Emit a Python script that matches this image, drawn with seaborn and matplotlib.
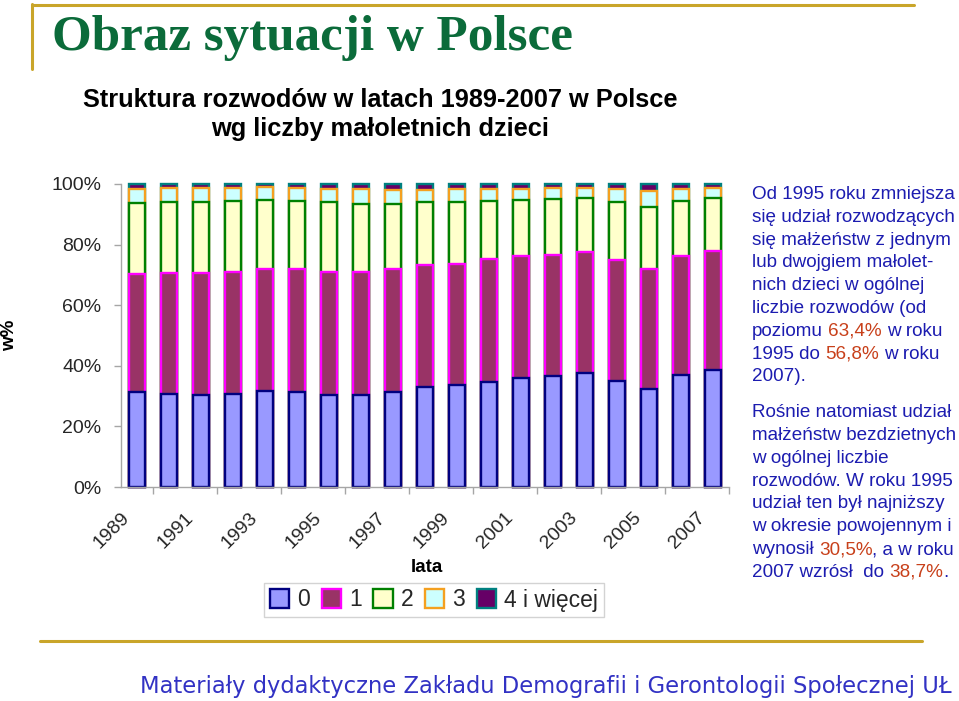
import re
import numpy as np
import pandas as pd
import seaborn as sns
import matplotlib
matplotlib.use("Agg")
import matplotlib.pyplot as plt
from matplotlib.patches import Patch
from matplotlib.lines import Line2D

# ---------------- data ----------------
years = list(range(1989, 2008))
share_0 = [31.2, 30.8, 30.5, 30.8, 31.7, 31.4, 30.5, 30.3, 31.4, 33.0,
           33.6, 34.6, 36.1, 36.7, 37.7, 34.9, 32.2, 36.9, 38.7]
share_1 = [39.0, 39.9, 40.0, 40.2, 40.4, 40.4, 40.5, 40.7, 40.5, 40.2,
           40.0, 40.5, 40.1, 39.8, 39.7, 40.0, 39.7, 39.4, 39.2]
share_2 = [23.5, 23.5, 23.7, 23.5, 22.6, 22.5, 22.9, 22.4, 21.5, 20.7,
           20.6, 19.4, 18.5, 18.5, 17.9, 19.0, 20.6, 18.1, 17.6]
share_3 = [4.6, 4.4, 4.4, 4.1, 4.2, 4.3, 4.3, 4.8, 4.6, 4.1,
           4.0, 3.8, 3.6, 3.6, 3.3, 4.3, 5.3, 3.9, 3.1]
share_4 = [1.7, 1.4, 1.4, 1.4, 1.1, 1.4, 1.8, 1.8, 2.0, 2.0,
           1.8, 1.7, 1.7, 1.4, 1.4, 1.8, 2.2, 1.7, 1.4]
categories = ["0", "1", "2", "3", "4 i więcej"]
year_labels = [str(y) for y in years]
shown_year_labels = year_labels[::2]
y_ticks = [0, 20, 40, 60, 80, 100]
y_tick_labels = [f"{v}%" for v in y_ticks]

title = "Obraz sytuacji w Polsce"
subtitle = ["Struktura rozwodów w latach 1989-2007 w Polsce",
            "wg liczby małoletnich dzieci"]
footer = "Materiały dydaktyczne Zakładu Demografii i Gerontologii Społecznej UŁ"
note_lines = [
    "Od 1995 roku zmniejsza",
    "się udział rozwodzących",
    "się małżeństw z jednym",
    "lub dwojgiem małolet-",
    "nich dzieci w ogólnej",
    "liczbie rozwodów (od",
    "poziomu {63,4%} w roku",
    "1995 do {56,8%} w roku",
    "2007).",
    None,
    "Rośnie natomiast udział",
    "małżeństw bezdzietnych",
    "w ogólnej liczbie",
    "rozwodów. W roku 1995",
    "udział ten był najniższy",
    "w okresie powojennym i",
    "wynosił {30,5%}, a w roku",
    "2007 wzrósł  do {38,7%}.",
]

# ---------------- styling ----------------
fills = ["#9999FF", "#993366", "#FFFFCC", "#CCFFFF", "#660066"]
edges = ["#000080", "#FF00FF", "#008000", "#F4A020", "#008080"]
GOLD = "#C9A52A"
TEXT_BLUE = "#1C1CB0"
NUM_RED = "#C8401A"
GREY = "#A6A6A6"

sns.set_theme(style="white")
plt.rcParams["font.family"] = ["Liberation Sans", "DejaVu Sans"]

W, H = 959, 701
fig = plt.figure(figsize=(W / 100, H / 100), dpi=100)
fig.patch.set_facecolor("white")


def fx(px):
    return px / W


def fy(py):
    return 1 - py / H


renderer = fig.canvas.get_renderer()


def fit_width(txt, target):
    w = txt.get_window_extent(renderer).width
    txt.set_fontsize(txt.get_fontsize() * target / w)


# ---------------- chart ----------------
ax = fig.add_axes([fx(121), fy(487), fx(729) - fx(121), fy(184) - fy(487)])
layers = [share_0, share_1, share_2, share_3, share_4]
cum = np.cumsum(np.array(layers), axis=0)
df = pd.DataFrame({"rok": year_labels})
for k in reversed(range(len(layers))):
    df["cum"] = cum[k]
    sns.barplot(data=df, x="rok", y="cum", order=year_labels, color=fills[k],
                edgecolor=edges[k], linewidth=1.7, width=0.47, saturation=1,
                errorbar=None, ax=ax)

ax.set_xlim(-0.5, len(years) - 0.5)
ax.set_ylim(0, 100)
for p in ax.patches:
    p.set_clip_on(False)

# year labels sit slightly left of their bars (as in the source chart)
ax.set_xticks(np.arange(0, len(years), 2) - 0.5)
ax.set_xticklabels(shown_year_labels, rotation=45, ha="right",
                   rotation_mode="anchor", fontsize=14)
ax.set_xticks(np.arange(-0.5, len(years), 1), minor=True)
ax.tick_params(axis="x", which="major", length=0, pad=16)
ax.tick_params(axis="x", which="minor", length=5, color=GREY, width=1,
               direction="out", bottom=True)
ax.set_yticks(y_ticks)
ax.set_yticklabels(y_tick_labels, fontsize=14)
ax.tick_params(axis="y", length=5, color=GREY, width=1, direction="out",
               left=True, pad=9)
for s in ["top", "right"]:
    ax.spines[s].set_visible(False)
for s in ["left", "bottom"]:
    ax.spines[s].set_color(GREY)
    ax.spines[s].set_linewidth(1)

ax.set_xlabel("lata", fontsize=13.5, fontweight="bold", color="black")
ax.xaxis.set_label_coords((427 - 121) / 608, (487 - 567) / 303)
ax.xaxis.label.set_va("center")
ax.set_ylabel("w%", fontsize=13.5, fontweight="bold", color="black")
ax.yaxis.set_label_coords((10 - 121) / 608, (487 - 335) / 303)
ax.yaxis.label.set_va("center")

handles = [Patch(facecolor=f, edgecolor=e, linewidth=1.7) for f, e in zip(fills, edges)]
leg = fig.legend(handles, categories, ncol=5, loc="center",
                 bbox_to_anchor=(fx(434), fy(600)), frameon=True,
                 fancybox=False, edgecolor="#C8C8C8", fontsize=16.5,
                 handlelength=0.85, handleheight=0.85, handletextpad=0.35,
                 columnspacing=0.5, borderpad=0.25, borderaxespad=0)
leg.get_frame().set_linewidth(1)

# ---------------- slide decoration ----------------
fig.add_artist(Line2D([fx(32), fx(914)], [fy(4.5), fy(4.5)], color=GOLD, lw=2.2))
fig.add_artist(Line2D([fx(32), fx(32)], [fy(4), fy(69)], color=GOLD, lw=2.2))
fig.add_artist(Line2D([fx(40), fx(922)], [fy(641), fy(641)], color=GOLD, lw=2.2))

t = fig.text(fx(52), fy(38), title, fontsize=30, fontweight="bold",
             family=["Liberation Serif", "DejaVu Serif"], color="#0B6B3A",
             ha="left", va="center")
fit_width(t, 520)

s1 = fig.text(fx(380), fy(100), subtitle[0], fontsize=15, fontweight="bold",
              ha="center", va="center", color="black")
fit_width(s1, 598)
s2 = fig.text(fx(380), fy(129), subtitle[1], fontsize=15, fontweight="bold",
              ha="center", va="center", color="black")
s2.set_fontsize(s1.get_fontsize())

ft = fig.text(fx(140), fy(686), footer, fontsize=18, color="#3232C4",
              family=["DejaVu Sans"], ha="left", va="center")
fit_width(ft, 815)

# ---------------- right-hand note ----------------
NOTE_FS = 13.2
probe = fig.text(0, 0, "Od 1995 roku zmniejsza", fontsize=NOTE_FS)
NOTE_FS = NOTE_FS * 204 / probe.get_window_extent(renderer).width
probe.remove()


def text_width(s):
    tt = fig.text(0, 0, s, fontsize=NOTE_FS)
    w = tt.get_window_extent(renderer).width
    tt.remove()
    return w


i_w = text_width("I")

x0 = 752
y = 199
for line in note_lines:
    if line is None:
        y += 13
        continue
    parts = re.split(r"(\{[^}]*\})", line)
    prefix = ""
    for part in parts:
        if not part:
            continue
        colour = TEXT_BLUE
        if part.startswith("{"):
            part = part[1:-1]
            colour = NUM_RED
        core = part.lstrip(" ")
        lead = part[: len(part) - len(core)]
        start = prefix + lead
        x = x0 if not start else x0 + text_width(start + "I") - i_w
        if core.strip(" "):
            fig.text(fx(x), fy(y), core.rstrip(" "), fontsize=NOTE_FS,
                     color=colour, ha="left", va="baseline")
        prefix += part
    y += 22.8

fig.savefig("out.png", dpi=100, facecolor="white")
